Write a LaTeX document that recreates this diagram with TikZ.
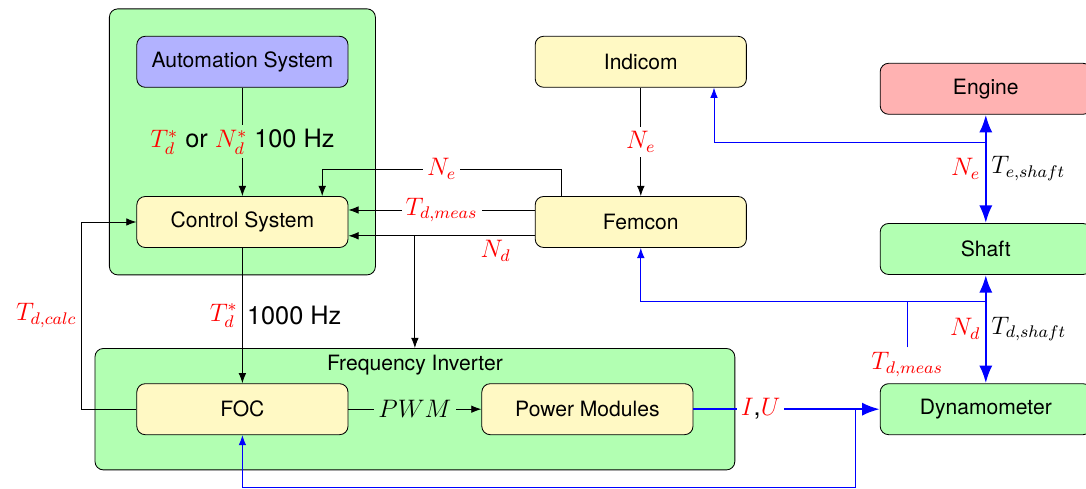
\documentclass[tikz,border=0pt]{standalone}
\usepackage{fontspec}
\setmainfont{TeX Gyre Heros}
\usepackage{xcolor}
\usepackage{tikz}
\usetikzlibrary{arrows.meta,positioning,calc,fit,backgrounds}
\definecolor{boxyellow}{RGB}{255,249,196}

\begin{document}
\begin{tikzpicture}[>=Latex,
  blk/.style={draw,rounded corners,align=center,minimum width=3.52cm,minimum height=0.85cm,fill=boxyellow},
  grp/.style={draw,rounded corners,fill=green!30},
  el/.style={font=\large,inner sep=2pt},
  sig/.style={blue,->},
  mech/.style={blue,line width=1.2pt,<->}]
\useasboundingbox (0,0) rectangle (18.1,8.15);
\node[blk,fill=blue!30] (auto) at (4.04,7.12) {Automation System};
\node[blk] (ctrl) at (4.04,4.45) {Control System};
\node[blk] (ind) at (10.68,7.12) {Indicom};
\node[blk] (fem) at (10.68,4.45) {Femcon};
\node[blk,fill=red!30] (eng) at (16.43,6.67) {Engine};
\node[blk,fill=green!30] (shaft) at (16.43,4.0) {Shaft};
\node[blk,fill=green!30] (dyn) at (16.43,1.33) {Dynamometer};
\node[blk] (foc) at (4.04,1.33) {FOC};
\node[blk] (pm) at (9.79,1.33) {Power Modules};
\begin{scope}[on background layer]
\node[grp,fit=(auto)(ctrl),inner sep=0.45cm] (csys) {};
\node[grp,fit=(foc)(pm),inner xsep=0.69cm,inner ysep=0.58cm,label={[anchor=north]north:Frequency Inverter}] (fi) {};
\end{scope}
\draw[->] (auto) -- node[el,fill=green!30]{\textcolor{red}{$T_d^*$} or \textcolor{red}{$N_d^*$} 100 Hz} (ctrl);
\draw[->] (ind) -- node[el,fill=white,text=red]{$N_e$} (fem);
\draw[->] ([xshift=-1.33cm]fem.north) -- ++(0,0.45) -| node[el,fill=white,text=red,pos=0.25]{$N_e$} ([xshift=1.33cm]ctrl.north);
\draw[->] ([yshift=0.2cm]fem.west) -- node[el,fill=white,text=red]{$T_{d,meas}$} ([yshift=0.2cm]ctrl.east);
\coordinate (ndfem) at ([yshift=-0.23cm]fem.west);
\draw[->] (ndfem) -- node[el,below,text=red,pos=0.21]{$N_d$} (ndfem -| ctrl.east);
\draw[->] (ndfem -| fi.north) -- (fi.north);
% mechanical side
\draw[mech] (eng) -- node[el,left,text=red]{$N_e$} node[el,right,text=black]{$T_{e,shaft}$} (shaft);
\draw[sig] ([yshift=-0.47cm]eng.south) -| ([xshift=1.22cm]ind.south);
\draw[mech] (shaft) -- node[el,left,text=red]{$N_d$} node[el,right,text=black]{$T_{d,shaft}$} (dyn);
\coordinate (shj) at ([yshift=-0.45cm]shaft.south);
\draw[sig] (shj) -| (fem.south);
\node[el,text=red] (tdm) at (15.12,2.08) {$T_{d,meas}$};
\draw[blue] (tdm) -- (tdm |- shj);
\draw[blue,line width=1.2pt,->] (pm) -- node[el,fill=white,text=black,pos=0.36]{\textcolor{red}{$I$},\textcolor{red}{$U$}} coordinate[pos=0.87] (iuj) (dyn);
\draw[sig] (iuj) -- ++(0,-1.3) -| (foc.south);
% inverter side
\draw[->] (ctrl) -- node[el,left,text=red]{$T_d^*$} node[el,right]{1000 Hz} (foc);
\draw[->] (foc.west) -- ++(-0.92,0) |- node[el,left,text=red,pos=0.25]{$T_{d,calc}$} (ctrl.west);
\draw[->] (foc) -- node[el,fill=green!30]{$PWM$} (pm);
\end{tikzpicture}
\end{document}
